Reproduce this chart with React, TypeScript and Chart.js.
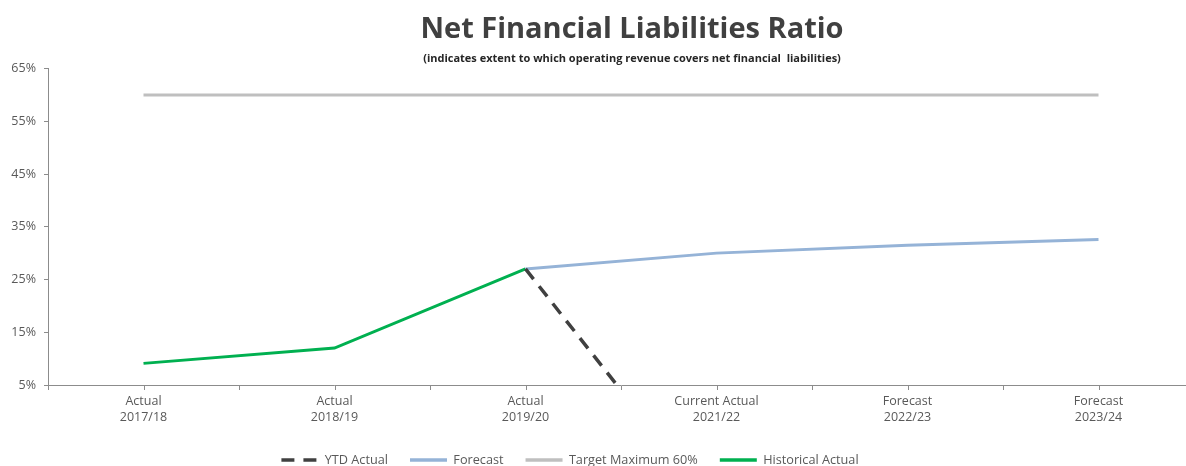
import React, { useEffect, useRef } from "react";
import { Chart, registerables } from "chart.js";

Chart.register(...registerables);

const categories: string[][] = [
  ["Actual", "2017/18"],
  ["Actual", "2018/19"],
  ["Actual", "2019/20"],
  ["Current Actual", "2021/22"],
  ["Forecast", "2022/23"],
  ["Forecast", "2023/24"],
];
const ytdActual: (number | null)[] = [null, null, 27.0, -19.0, null, null];
const forecast: (number | null)[] = [null, null, 27.0, 30.0, 31.5, 32.6];
const targetMax: number[] = [60, 60, 60, 60, 60, 60];
const historicalActual: (number | null)[] = [9.1, 12.0, 27.0, null, null, null];
const yTicks = { min: 5, max: 65, step: 10 };

const TITLE = "Net Financial Liabilities Ratio";
const SUBTITLE = "(indicates extent to which operating revenue covers net financial  liabilities)";

const FONT = "'Open Sans', sans-serif";
const AXIS_COLOR = "#8c8c8c";
const TEXT_COLOR = "#595959";

const W = 1194;
const H = 466;
const PLOT_BOTTOM = 385;
const TITLE_CENTER_X = 632;
const LEGEND_CENTER_X = 570;
const LEGEND_CENTER_Y = 460;
const LEGEND_FONT = 12.7;
const LEGEND_PAD = 22;
const TICK_FONT = 12.5;

const shiftBoxes = {
  id: "shiftBoxes",
  afterLayout(chart: any) {
    const titleCtor = chart.titleBlock ? chart.titleBlock.constructor : null;
    chart.boxes.forEach((b: any) => {
      if (b === chart.legend) {
        const cx = (b.left + b.right) / 2;
        const dx = LEGEND_CENTER_X - cx;
        b.left += dx;
        b.right += dx;
        const cy = b.top + LEGEND_PAD + LEGEND_FONT / 2;
        const dy = LEGEND_CENTER_Y - cy;
        b.top += dy;
        b.bottom += dy;
      } else if (titleCtor && b.constructor === titleCtor) {
        const cx = (b.left + b.right) / 2;
        const dx = TITLE_CENTER_X - cx;
        b.left += dx;
        b.right += dx;
      }
    });
  },
};

const centerTicks = {
  id: "centerTicks",
  afterDraw(chart: any) {
    const x = chart.scales.x;
    const ctx = chart.ctx;
    ctx.save();
    ctx.strokeStyle = AXIS_COLOR;
    ctx.lineWidth = 1;
    ctx.beginPath();
    for (let i = 0; i < categories.length; i++) {
      const px = Math.round(x.getPixelForValue(i)) + 0.5;
      ctx.moveTo(px, x.top);
      ctx.lineTo(px, x.top + 5);
    }
    ctx.stroke();
    ctx.restore();
  },
};

export default function App() {
  const ref = useRef<HTMLCanvasElement | null>(null);

  useEffect(() => {
    document.body.style.margin = "0";
    const canvas = ref.current!;
    // Chart.js legend height (horizontal, one row) = itemHeight + padding + 10
    const legendH = LEGEND_FONT + LEGEND_PAD + 10;
    const chart = new Chart(canvas, {
      type: "line",
      data: {
        labels: categories,
        datasets: [
          {
            label: "YTD Actual",
            data: ytdActual,
            borderColor: "#404040",
            backgroundColor: "#404040",
            borderWidth: 3.5,
            borderDash: [13, 9],
            pointRadius: 0,
          },
          {
            label: "Forecast",
            data: forecast,
            borderColor: "#95B3D7",
            backgroundColor: "#95B3D7",
            borderWidth: 3,
            pointRadius: 0,
          },
          {
            label: "Target Maximum 60%",
            data: targetMax,
            borderColor: "#BFBFBF",
            backgroundColor: "#BFBFBF",
            borderWidth: 3,
            pointRadius: 0,
          },
          {
            label: "Historical Actual",
            data: historicalActual,
            borderColor: "#00B050",
            backgroundColor: "#00B050",
            borderWidth: 3,
            pointRadius: 0,
          },
        ],
      },
      options: {
        responsive: false,
        animation: false,
        devicePixelRatio: 1,
        layout: { padding: 0 },
        font: { family: FONT },
        plugins: {
          title: {
            display: true,
            text: TITLE,
            color: "#404040",
            font: { family: FONT, size: 29, weight: "bold", lineHeight: 1.2 },
            padding: { top: 12, bottom: 4 },
          },
          subtitle: {
            display: true,
            text: SUBTITLE,
            color: "#262626",
            font: { family: FONT, size: 11, weight: "bold", lineHeight: 1.2 },
            padding: { top: 1.5, bottom: 3 },
          },
          legend: {
            display: true,
            position: "bottom",
            labels: {
              usePointStyle: true,
              pointStyle: "line",
              pointStyleWidth: 37,
              padding: LEGEND_PAD,
              color: TEXT_COLOR,
              font: { family: FONT, size: LEGEND_FONT },
              generateLabels: (c: any) =>
                (Chart.defaults.plugins.legend.labels as any)
                  .generateLabels(c)
                  .map((l: any) => {
                    const ds: any = c.data.datasets[l.datasetIndex];
                    return { ...l, lineDash: ds.borderDash || [], lineWidth: 3.5, strokeStyle: ds.borderColor };
                  }),
            },
          },
          tooltip: { enabled: false },
        },
        scales: {
          x: {
            type: "category",
            offset: true,
            grid: {
              offset: true,
              drawOnChartArea: false,
              drawTicks: true,
              tickLength: 5,
              color: AXIS_COLOR,
            },
            border: { color: AXIS_COLOR, width: 1 },
            ticks: {
              color: TEXT_COLOR,
              padding: 3,
              maxRotation: 0,
              autoSkip: false,
              font: { family: FONT, size: TICK_FONT, lineHeight: 1.3 },
            },
            afterFit: (s: any) => {
              s.height = H - PLOT_BOTTOM - legendH;
            },
          },
          y: {
            min: yTicks.min,
            max: yTicks.max,
            grid: {
              drawOnChartArea: false,
              drawTicks: true,
              tickLength: 4,
              color: AXIS_COLOR,
            },
            border: { color: AXIS_COLOR, width: 1 },
            ticks: {
              stepSize: yTicks.step,
              color: TEXT_COLOR,
              padding: 8,
              font: { family: FONT, size: TICK_FONT },
              callback: (v: any) => `${v}%`,
            },
            afterFit: (s: any) => {
              s.width = 48;
            },
          },
        },
      },
      plugins: [shiftBoxes, centerTicks],
    });
    return () => chart.destroy();
  }, []);

  return (
    <div style={{ position: "relative", width: 1186, height: H, overflow: "hidden", background: "#fff" }}>
      <canvas ref={ref} width={W} height={H} style={{ display: "block", width: W, height: H }} />
    </div>
  );
}
